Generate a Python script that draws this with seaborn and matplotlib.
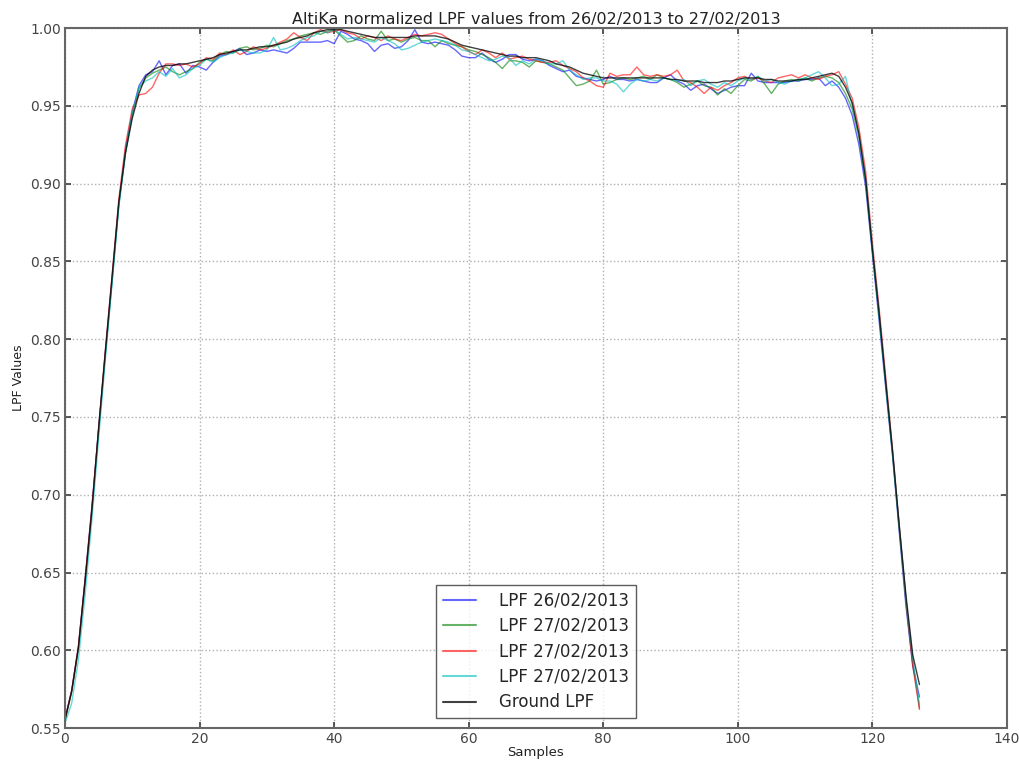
import numpy as np
import pandas as pd
import matplotlib
matplotlib.use("Agg")
import matplotlib.pyplot as plt
import seaborn as sns

samples = list(range(128))

lpf_26 = [0.556, 0.574, 0.602, 0.646, 0.692, 0.742, 0.791, 0.838, 0.887, 0.922, 0.946, 0.963,
          0.970, 0.972, 0.979, 0.970, 0.976, 0.977, 0.971, 0.976, 0.975, 0.973, 0.978, 0.982,
          0.983, 0.985, 0.987, 0.983, 0.984, 0.986, 0.985, 0.986, 0.985, 0.984, 0.987, 0.991,
          0.991, 0.991, 0.991, 0.992, 0.990, 0.998, 0.996, 0.993, 0.992, 0.990, 0.985, 0.989,
          0.990, 0.987, 0.988, 0.992, 0.999, 0.991, 0.990, 0.991, 0.990, 0.989, 0.986, 0.982,
          0.981, 0.981, 0.984, 0.980, 0.978, 0.980, 0.983, 0.983, 0.980, 0.979, 0.980, 0.979,
          0.976, 0.974, 0.972, 0.973, 0.969, 0.968, 0.967, 0.966, 0.967, 0.969, 0.967, 0.967,
          0.966, 0.967, 0.966, 0.965, 0.965, 0.968, 0.970, 0.966, 0.964, 0.960, 0.963, 0.964,
          0.961, 0.958, 0.960, 0.962, 0.963, 0.963, 0.971, 0.966, 0.965, 0.965, 0.965, 0.965,
          0.966, 0.966, 0.967, 0.967, 0.968, 0.963, 0.966, 0.962, 0.955, 0.944, 0.925, 0.898,
          0.855, 0.812, 0.768, 0.725, 0.676, 0.628, 0.590, 0.570]

lpf_27a = [0.555, 0.573, 0.601, 0.644, 0.690, 0.741, 0.790, 0.837, 0.886, 0.920, 0.944, 0.961,
           0.968, 0.971, 0.973, 0.975, 0.972, 0.970, 0.972, 0.974, 0.978, 0.980, 0.979, 0.983,
           0.985, 0.984, 0.987, 0.988, 0.986, 0.987, 0.989, 0.988, 0.990, 0.992, 0.993, 0.995,
           0.996, 0.997, 0.996, 0.998, 0.999, 0.995, 0.991, 0.992, 0.995, 0.993, 0.992, 0.998,
           0.992, 0.993, 0.991, 0.993, 0.994, 0.992, 0.992, 0.988, 0.992, 0.990, 0.989, 0.988,
           0.986, 0.985, 0.983, 0.981, 0.978, 0.974, 0.979, 0.979, 0.978, 0.975, 0.979, 0.978,
           0.977, 0.975, 0.973, 0.968, 0.963, 0.964, 0.966, 0.973, 0.964, 0.965, 0.967, 0.968,
           0.967, 0.968, 0.969, 0.967, 0.970, 0.968, 0.967, 0.965, 0.962, 0.964, 0.966, 0.963,
           0.962, 0.957, 0.961, 0.958, 0.963, 0.967, 0.966, 0.969, 0.964, 0.958, 0.964, 0.966,
           0.967, 0.966, 0.968, 0.966, 0.968, 0.969, 0.968, 0.965, 0.958, 0.948, 0.930, 0.901,
           0.857, 0.815, 0.770, 0.726, 0.678, 0.631, 0.592, 0.563]

lpf_27b = [0.556, 0.574, 0.603, 0.646, 0.692, 0.742, 0.793, 0.841, 0.890, 0.925, 0.948, 0.957,
           0.958, 0.962, 0.971, 0.977, 0.977, 0.976, 0.977, 0.975, 0.977, 0.981, 0.980, 0.984,
           0.983, 0.986, 0.983, 0.985, 0.988, 0.986, 0.987, 0.989, 0.991, 0.993, 0.997, 0.994,
           0.992, 0.997, 0.999, 0.997, 0.998, 0.999, 0.997, 0.996, 0.993, 0.995, 0.994, 0.992,
           0.995, 0.993, 0.992, 0.994, 0.996, 0.995, 0.996, 0.997, 0.996, 0.993, 0.990, 0.988,
           0.985, 0.983, 0.986, 0.984, 0.981, 0.984, 0.980, 0.981, 0.982, 0.980, 0.979, 0.978,
           0.978, 0.979, 0.976, 0.974, 0.972, 0.968, 0.966, 0.963, 0.962, 0.971, 0.969, 0.970,
           0.970, 0.975, 0.970, 0.969, 0.970, 0.969, 0.970, 0.973, 0.966, 0.965, 0.962, 0.958,
           0.962, 0.960, 0.963, 0.965, 0.968, 0.969, 0.967, 0.968, 0.966, 0.965, 0.968, 0.969,
           0.970, 0.968, 0.970, 0.968, 0.967, 0.969, 0.970, 0.972, 0.964, 0.955, 0.936, 0.908,
           0.862, 0.820, 0.775, 0.729, 0.680, 0.632, 0.590, 0.562]

lpf_27c = [0.553, 0.566, 0.594, 0.636, 0.684, 0.736, 0.787, 0.836, 0.885, 0.920, 0.945, 0.962,
           0.966, 0.968, 0.972, 0.969, 0.974, 0.968, 0.970, 0.974, 0.976, 0.980, 0.978, 0.981,
           0.983, 0.984, 0.986, 0.985, 0.984, 0.984, 0.986, 0.994, 0.986, 0.987, 0.989, 0.992,
           0.994, 0.995, 0.998, 0.997, 0.999, 0.996, 0.993, 0.994, 0.993, 0.992, 0.991, 0.994,
           0.992, 0.990, 0.986, 0.987, 0.989, 0.991, 0.992, 0.993, 0.992, 0.991, 0.989, 0.986,
           0.985, 0.983, 0.981, 0.979, 0.980, 0.982, 0.981, 0.976, 0.979, 0.977, 0.980, 0.979,
           0.977, 0.977, 0.979, 0.973, 0.970, 0.967, 0.968, 0.968, 0.966, 0.966, 0.964, 0.959,
           0.964, 0.967, 0.966, 0.967, 0.966, 0.968, 0.967, 0.966, 0.967, 0.963, 0.966, 0.967,
           0.964, 0.962, 0.965, 0.963, 0.966, 0.968, 0.967, 0.969, 0.966, 0.967, 0.965, 0.964,
           0.966, 0.967, 0.968, 0.970, 0.972, 0.968, 0.963, 0.964, 0.969, 0.950, 0.932, 0.903,
           0.858, 0.816, 0.771, 0.727, 0.679, 0.633, 0.595, 0.565]

ground = [0.555, 0.574, 0.602, 0.645, 0.690, 0.743, 0.792, 0.840, 0.888, 0.920, 0.942, 0.958,
          0.969, 0.973, 0.975, 0.976, 0.976, 0.977, 0.977, 0.978, 0.979, 0.980, 0.981, 0.983,
          0.984, 0.985, 0.986, 0.986, 0.987, 0.988, 0.988, 0.989, 0.990, 0.991, 0.993, 0.994,
          0.995, 0.997, 0.998, 0.999, 0.999, 0.999, 0.998, 0.997, 0.996, 0.995, 0.994, 0.994,
          0.994, 0.994, 0.994, 0.994, 0.995, 0.995, 0.995, 0.995, 0.994, 0.993, 0.991, 0.989,
          0.988, 0.987, 0.986, 0.985, 0.984, 0.983, 0.982, 0.982, 0.981, 0.981, 0.981, 0.980,
          0.979, 0.977, 0.976, 0.975, 0.973, 0.971, 0.970, 0.969, 0.968, 0.968, 0.968, 0.968,
          0.968, 0.968, 0.968, 0.968, 0.968, 0.968, 0.967, 0.967, 0.966, 0.966, 0.966, 0.965,
          0.965, 0.965, 0.966, 0.966, 0.967, 0.968, 0.968, 0.968, 0.967, 0.967, 0.966, 0.966,
          0.966, 0.967, 0.967, 0.968, 0.969, 0.970, 0.971, 0.969, 0.962, 0.952, 0.932, 0.903,
          0.858, 0.817, 0.772, 0.728, 0.680, 0.635, 0.597, 0.578]

series_labels = ["LPF 26/02/2013", "LPF 27/02/2013", "LPF 27/02/2013", "LPF 27/02/2013", "Ground LPF"]
series_values = [lpf_26, lpf_27a, lpf_27b, lpf_27c, ground]
series_colors = ["#0000ff", "#008000", "#ff0000", "#00bfbf", "#000000"]
series_alpha = [0.6, 0.6, 0.6, 0.6, 0.75]

sns.set_theme(style="white")
plt.rcParams['font.family'] = ['DejaVu Sans']

fig = plt.figure(figsize=(10.2, 7.6), dpi=100)
ax = fig.add_axes([0.0637, 0.042, 0.9235, 0.921])

for vals, lab, col, a in zip(series_values, series_labels, series_colors, series_alpha):
    df = pd.DataFrame({"Samples": samples, "LPF": vals})
    sns.lineplot(data=df, x="Samples", y="LPF", color=col, alpha=a, lw=1.0,
                 label=lab, ax=ax, estimator=None)

ax.set_xlim(0, 140)
ax.set_ylim(0.55, 1.00)
ax.set_xticks(np.arange(0, 141, 20))
ax.set_yticks(np.arange(0.55, 1.0001, 0.05))
ax.set_yticklabels([f"{v:.2f}" for v in np.arange(0.55, 1.0001, 0.05)])
ax.grid(True, linestyle=":", color="#b0b0b0", linewidth=1.0)
ax.tick_params(direction="in", length=4, labelsize=10, colors="#444444",
               top=True, right=True, bottom=True, left=True, pad=3)
for s in ax.spines.values():
    s.set_color("#666666")
    s.set_linewidth(1.5)

ax.set_title("AltiKa normalized LPF values from 26/02/2013 to 27/02/2013", fontsize=11.5, pad=3,
             color="#222222")
ax.set_xlabel("Samples", fontsize=9.5, labelpad=0, color="#222222")
ax.set_ylabel("LPF Values", fontsize=9, labelpad=4, color="#222222")

leg = ax.legend(loc="lower center", fontsize=12, fancybox=False, frameon=True,
                borderaxespad=0.6, handlelength=2.0, handletextpad=1.4, labelspacing=0.45)
leg.get_frame().set_edgecolor("#333333")
leg.get_frame().set_linewidth(1.0)
for h, a in zip(leg.get_lines(), series_alpha):
    h.set_alpha(a)
    h.set_linewidth(1.5)

fig.savefig("out.png", dpi=100)
